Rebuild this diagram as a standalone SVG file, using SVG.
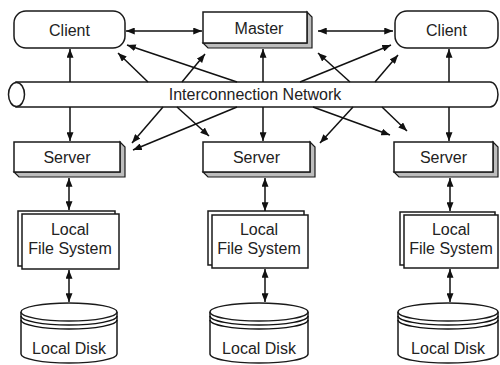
<svg xmlns="http://www.w3.org/2000/svg" width="500" height="365" viewBox="0 0 500 365">
  <style>
    .box { fill: #ffffff; stroke: #1a1a1a; stroke-width: 1.5; }
    .bevel { fill: #bdbdbd; stroke: #1a1a1a; stroke-width: 1.2; }
    .lbl { font-family: "Liberation Sans", Arial, sans-serif; font-size: 16px; fill: #222222; text-anchor: middle; }
    .link { stroke: #111111; stroke-width: 1.5; fill: none; }
    .one { marker-end: url(#head); }
    .two { marker-start: url(#head); marker-end: url(#head); }
  </style>
  <defs>
    <marker id="head" viewBox="0 0 10 8" refX="10" refY="4" markerWidth="9" markerHeight="7" markerUnits="userSpaceOnUse" orient="auto-start-reverse">
      <path d="M0,0 L10,4 L0,8 z" fill="#111111"/>
    </marker>
  </defs>

  <rect width="500" height="365" fill="#ffffff"/>

  <!-- top row -->
  <g id="client-left">
    <rect class="box" x="14" y="11" width="111" height="37" rx="12"/>
    <text class="lbl" x="69.5" y="35.5">Client</text>
  </g>
  <g id="master">
    <polygon class="bevel" points="307,12 312,17 312,48 208,48 203,43 307,43"/>
    <rect class="box" x="203" y="12" width="104" height="31"/>
    <text class="lbl" x="259" y="33.5">Master</text>
  </g>
  <g id="client-right">
    <rect class="box" x="395" y="11" width="103" height="37" rx="12"/>
    <text class="lbl" x="446.5" y="35.5">Client</text>
  </g>

  <!-- network pipe -->
  <g id="network">
    <path class="box" d="M16,82 H490 A8,12.5 0 0 1 490,107 H16 Z"/>
    <ellipse class="box" cx="16.5" cy="94.5" rx="8" ry="12"/>
    <text class="lbl" x="255" y="100">Interconnection Network</text>
  </g>

  <!-- servers -->
  <g id="server-left">
    <polygon class="bevel" points="120,142 125,147 125,177 19,177 14,172 120,172"/>
    <rect class="box" x="14" y="142" width="106" height="30"/>
    <text class="lbl" x="67" y="163">Server</text>
  </g>
  <g id="server-middle">
    <polygon class="bevel" points="310,142 315,147 315,177 208,177 203,172 310,172"/>
    <rect class="box" x="203" y="142" width="107" height="30"/>
    <text class="lbl" x="256.5" y="163">Server</text>
  </g>
  <g id="server-right">
    <polygon class="bevel" points="493,142 498,147 498,177 399,177 394,172 493,172"/>
    <rect class="box" x="394" y="142" width="99" height="30"/>
    <text class="lbl" x="443.5" y="163">Server</text>
  </g>

  <!-- local file systems -->
  <g id="fs-left">
    <rect class="box" x="18" y="211" width="97" height="55"/>
    <rect class="box" x="22" y="214" width="97" height="55"/>
    <text class="lbl" x="70" y="235">Local</text>
    <text class="lbl" x="70" y="254">File System</text>
  </g>
  <g id="fs-middle">
    <rect class="box" x="208" y="211" width="96" height="54"/>
    <rect class="box" x="212" y="215" width="96" height="53"/>
    <text class="lbl" x="259" y="235">Local</text>
    <text class="lbl" x="259" y="254">File System</text>
  </g>
  <g id="fs-right">
    <rect class="box" x="400" y="212" width="95" height="53"/>
    <rect class="box" x="404" y="215" width="94" height="53"/>
    <text class="lbl" x="451" y="235">Local</text>
    <text class="lbl" x="451" y="254">File System</text>
  </g>

  <!-- local disks -->
  <g id="disk-left">
    <path class="box" d="M21,312 V354 A48,9 0 0 0 117,354 V312"/>
    <ellipse class="box" cx="69" cy="312" rx="48" ry="9"/>
    <path class="link" d="M21,316 A48,9 0 0 0 117,316 M21,320 A48,9 0 0 0 117,320"/>
    <text class="lbl" x="69" y="354">Local Disk</text>
  </g>
  <g id="disk-middle">
    <path class="box" d="M210,312 V354 A49,9 0 0 0 308,354 V312"/>
    <ellipse class="box" cx="259" cy="312" rx="49" ry="9"/>
    <path class="link" d="M210,316 A49,9 0 0 0 308,316 M210,320 A49,9 0 0 0 308,320"/>
    <text class="lbl" x="259" y="354">Local Disk</text>
  </g>
  <g id="disk-right">
    <path class="box" d="M398,312 V354 A50,9 0 0 0 498,354 V312"/>
    <ellipse class="box" cx="448" cy="312" rx="50" ry="9"/>
    <path class="link" d="M398,316 A50,9 0 0 0 498,316 M398,320 A50,9 0 0 0 498,320"/>
    <text class="lbl" x="448" y="354">Local Disk</text>
  </g>

  <!-- connectors -->
  <g id="connectors">
    <!-- top row peer links -->
    <line class="link two" x1="126" y1="31" x2="202" y2="31"/>
    <line class="link two" x1="318" y1="31" x2="393" y2="31"/>
    <!-- network up to top row -->
    <line class="link one" x1="70" y1="82" x2="70" y2="49"/>
    <line class="link one" x1="263" y1="82" x2="263" y2="49"/>
    <line class="link one" x1="449" y1="82" x2="449" y2="49"/>
    <line class="link one" x1="148" y1="82" x2="118" y2="53"/>
    <line class="link one" x1="237" y1="82" x2="127" y2="45"/>
    <line class="link one" x1="182" y1="82" x2="205" y2="54"/>
    <line class="link one" x1="350" y1="82" x2="318" y2="53"/>
    <line class="link one" x1="300" y1="82" x2="391" y2="45"/>
    <line class="link one" x1="375" y1="82" x2="398" y2="55"/>
    <!-- network down to servers -->
    <line class="link one" x1="70" y1="107" x2="70" y2="141"/>
    <line class="link one" x1="263" y1="107" x2="263" y2="141"/>
    <line class="link one" x1="449" y1="107" x2="449" y2="141"/>
    <line class="link one" x1="163" y1="107" x2="132" y2="143"/>
    <line class="link one" x1="237" y1="107" x2="133" y2="150"/>
    <line class="link one" x1="177" y1="107" x2="209" y2="136"/>
    <line class="link one" x1="353" y1="107" x2="320" y2="143"/>
    <line class="link one" x1="313" y1="107" x2="390" y2="135"/>
    <line class="link one" x1="382" y1="107" x2="407" y2="131"/>
    <!-- server to file system -->
    <line class="link two" x1="69" y1="178" x2="69" y2="210"/>
    <line class="link two" x1="265" y1="178" x2="265" y2="211"/>
    <line class="link two" x1="450" y1="178" x2="450" y2="211"/>
    <!-- file system to disk -->
    <line class="link two" x1="69" y1="270" x2="69" y2="302"/>
    <line class="link two" x1="265" y1="269" x2="265" y2="302"/>
    <line class="link two" x1="450" y1="269" x2="450" y2="302"/>
  </g>
</svg>
